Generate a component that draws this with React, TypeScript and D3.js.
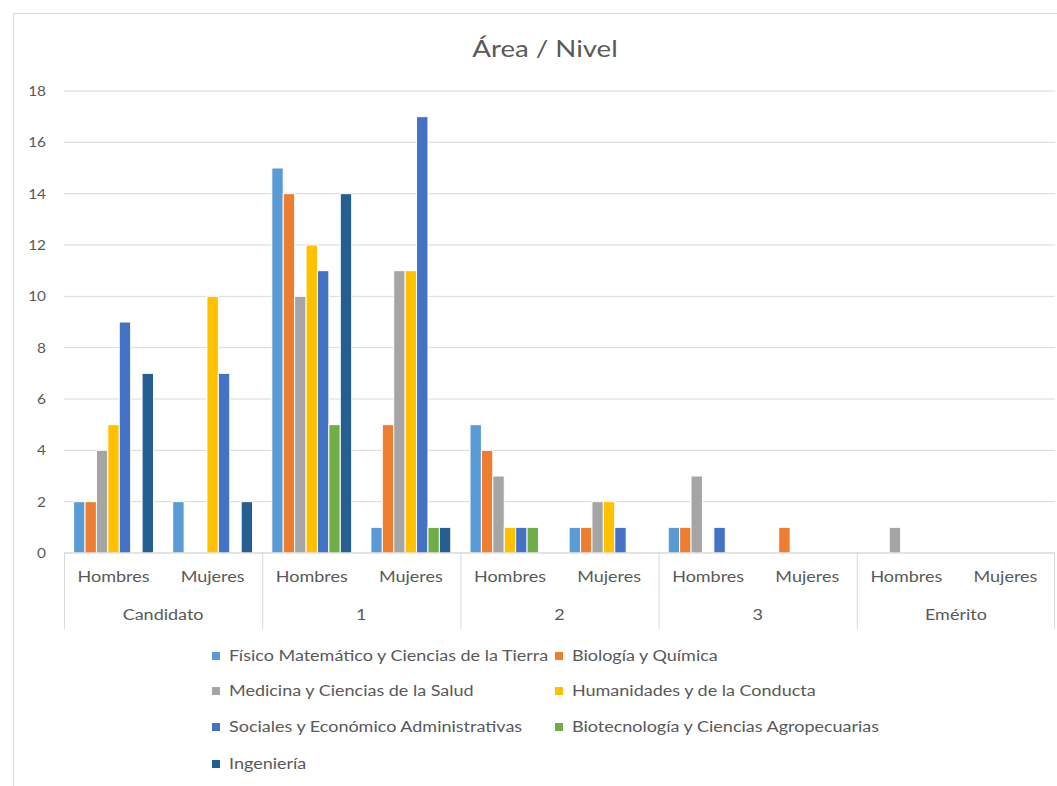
import React from "react";
import * as d3 from "d3";

const title = "Área / Nivel";
const levels = ["Candidato", "1", "2", "3", "Emérito"];
const genders = ["Hombres", "Mujeres"];
const series = [
  "Físico Matemático y Ciencias de la Tierra",
  "Biología y Química",
  "Medicina y Ciencias de la Salud",
  "Humanidades y de la Conducta",
  "Sociales y Económico Administrativas",
  "Biotecnología y Ciencias Agropecuarias",
  "Ingeniería",
];
const colors = ["#5B9BD5", "#ED7D31", "#A5A5A5", "#FFC000", "#4472C4", "#70AD47", "#255E91"];
// values per series, in order: Candidato H, Candidato M, 1 H, 1 M, 2 H, 2 M, 3 H, 3 M, Emérito H, Emérito M
const fisicoMat = [2, 2, 15, 1, 5, 1, 1, 0, 0, 0];
const biologia = [2, 0, 14, 5, 4, 1, 1, 1, 0, 0];
const medicina = [4, 0, 10, 11, 3, 2, 3, 0, 1, 0];
const humanidades = [5, 10, 12, 11, 1, 2, 0, 0, 0, 0];
const sociales = [9, 7, 11, 17, 1, 1, 1, 0, 0, 0];
const biotec = [0, 0, 5, 1, 1, 0, 0, 0, 0, 0];
const ingenieria = [7, 2, 14, 1, 0, 0, 0, 0, 0, 0];
const values = [fisicoMat, biologia, medicina, humanidades, sociales, biotec, ingenieria];
const yTicks = [0, 2, 4, 6, 8, 10, 12, 14, 16, 18];

const W = 1057;
const H = 786;
const FONT = "Lato, 'Open Sans', sans-serif";
const TXT = "#595959";
const SX = 1.2;

export default function App() {
  const plotL = 64;
  const plotR = 1055;
  const yTop = 91;
  const yBot = 553;

  const subCats = levels.flatMap((l) => genders.map((g) => `${l}|${g}`));
  const x = d3.scaleBand<string>().domain(subCats).range([plotL, plotR]).padding(0);
  const xl = d3.scaleBand<string>().domain(levels).range([plotL, plotR]).padding(0);
  const bw = x.bandwidth();
  const inner = d3
    .scaleBand<string>()
    .domain(series)
    .range([bw * 0.097, bw * 0.903])
    .padding(0);
  const y = d3.scaleLinear().domain([0, 18]).range([yBot, yTop]);

  const legendRowY = [660, 695, 731, 768];
  const legendColX = [212, 555];

  const T = (px: number, py: number, s = SX) => `translate(${px},${py}) scale(${s},1)`;

  return (
    <svg
      width={W}
      height={H}
      style={{ position: "absolute", left: 0, top: 0, background: "#fff" }}
      fontFamily={FONT}
    >
      <rect x={13.5} y={13.5} width={W} height={H} fill="#fff" stroke="#D9D9D9" />
      <text transform={T(545, 57, 1.15)} textAnchor="middle" fontSize={24} fill={TXT}>
        {title}
      </text>

      {yTicks.map((t) => (
        <g key={t}>
          <line x1={plotL} x2={plotR} y1={y(t)} y2={y(t)} stroke="#D9D9D9" strokeWidth={1} />
          <text transform={T(46, y(t) + 5, 1.1)} textAnchor="end" fontSize={14} fill={TXT}>
            {t}
          </text>
        </g>
      ))}

      {series.map((s, si) =>
        subCats.map((c, ci) => {
          const v = values[si][ci];
          if (!v) return null;
          const x0 = (x(c) as number) + (inner(s) as number);
          return (
            <rect
              key={s + c}
              x={x0}
              y={y(v)}
              width={inner.bandwidth()}
              height={y(0) - y(v)}
              fill={colors[si]}
              stroke="#fff"
              strokeWidth={1}
            />
          );
        })
      )}

      <line x1={plotL} x2={plotR} y1={yBot} y2={yBot} stroke="#D9D9D9" />
      {levels.map((l) => (
        <line
          key={"sep" + l}
          x1={(xl(l) as number) + 0.5}
          x2={(xl(l) as number) + 0.5}
          y1={yBot}
          y2={629}
          stroke="#D9D9D9"
        />
      ))}
      <line x1={plotR - 0.5} x2={plotR - 0.5} y1={yBot} y2={629} stroke="#D9D9D9" />

      {subCats.map((c) => (
        <text
          key={"lab" + c}
          transform={T((x(c) as number) + bw / 2, 582)}
          textAnchor="middle"
          fontSize={15}
          fill={TXT}
        >
          {c.split("|")[1]}
        </text>
      ))}
      {levels.map((l) => (
        <text
          key={"lev" + l}
          transform={T((xl(l) as number) + xl.bandwidth() / 2, 620)}
          textAnchor="middle"
          fontSize={15}
          fill={TXT}
        >
          {l}
        </text>
      ))}

      {series.map((s, i) => {
        const lx = legendColX[i % 2];
        const ly = legendRowY[Math.floor(i / 2)];
        return (
          <g key={"leg" + s}>
            <rect x={lx} y={ly - 8} width={8} height={8} fill={colors[i]} />
            <text transform={T(lx + 17, ly + 1)} fontSize={15} fill={TXT}>
              {s}
            </text>
          </g>
        );
      })}
    </svg>
  );
}
